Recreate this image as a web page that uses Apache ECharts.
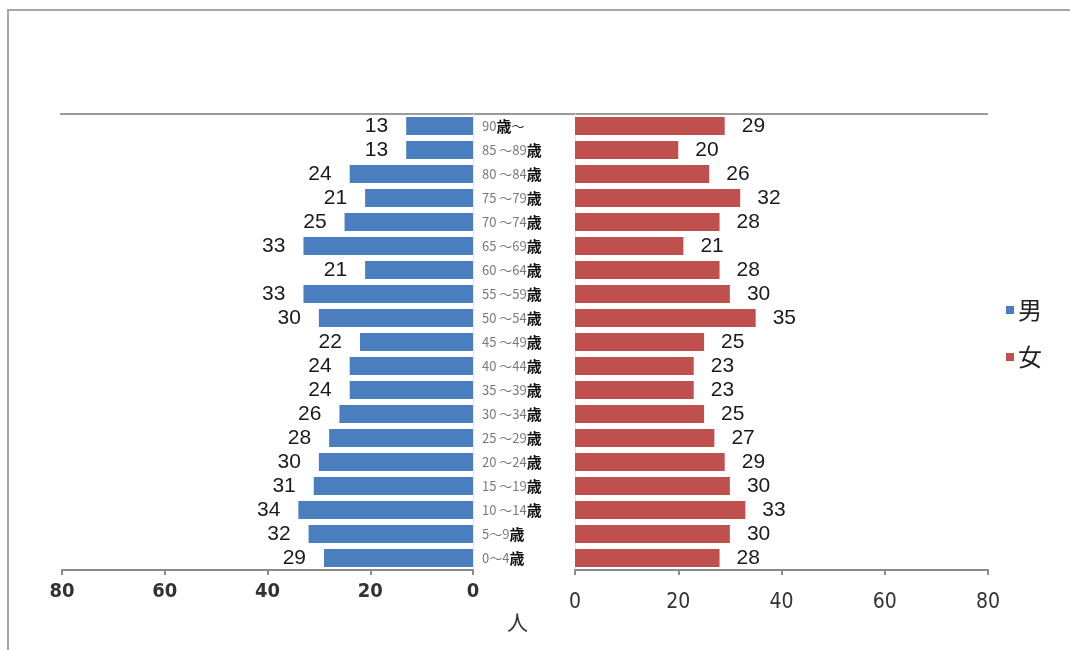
<!DOCTYPE html>
<html>
<head>
<meta charset="utf-8">
<script src="https://cdn.jsdelivr.net/npm/echarts@6/dist/echarts.min.js"></script>
<style>
  html, body { margin: 0; padding: 0; background: #fff; }
  #chart { width: 1070px; height: 650px; }
</style>
</head>
<body>
<div id="chart"></div>
<script>
// Age groups, top row first
const ageGroups = [
  '90歳～', '85～89歳', '80～84歳', '75～79歳', '70～74歳', '65～69歳',
  '60～64歳', '55～59歳', '50～54歳', '45～49歳', '40～44歳', '35～39歳',
  '30～34歳', '25～29歳', '20～24歳', '15～19歳', '10～14歳', '5～9歳', '0～4歳'
];
// Head counts per age group
const male   = [13, 13, 24, 21, 25, 33, 21, 33, 30, 22, 24, 24, 26, 28, 30, 31, 34, 32, 29];
const female = [29, 20, 26, 32, 28, 21, 28, 30, 35, 25, 23, 23, 25, 27, 29, 30, 33, 30, 28];
const axisTicks = { min: 0, max: 80, interval: 20 };

// Layout of the two half-plots
const W = 1070, H = 650;
const plotTop = 114, plotBottom = 570;
const leftL = 62, leftR = 473;
const rightL = 575, rightR = 988;

const chart = echarts.init(document.getElementById('chart'), null, { renderer: 'canvas' });

const axisGray = '#8c8c8c';
const numFont = '"DejaVu Sans Condensed", "Liberation Sans", Arial, sans-serif';
const cjkFont = '"Noto Sans CJK JP", "Noto Sans CJK SC", sans-serif';

// Digits in grey, the 歳 character in bold black; a space after two-digit starts
function ageLabel(v) {
  const parts = v.split('歳');
  const head = parts[0].replace(/(\d\d)～/, '$1 ～');
  return '{n|' + head + '}{k|歳}' + (parts[1] ? '{t|' + parts[1] + '}' : '');
}

chart.setOption({
  animation: false,
  backgroundColor: '#fff',
  legend: {
    orient: 'vertical',
    left: 1006,
    top: 298,
    padding: 0,
    icon: 'rect',
    itemWidth: 8,
    itemHeight: 8,
    itemGap: 23,
    data: ['男', '女'],
    textStyle: { fontSize: 24, color: '#222', fontFamily: cjkFont, padding: [0, 0, 0, -1] }
  },
  grid: [
    { left: leftL, right: W - leftR, top: plotTop, bottom: H - plotBottom },
    { left: rightL, right: W - rightR, top: plotTop, bottom: H - plotBottom }
  ],
  xAxis: [
    {
      gridIndex: 0, type: 'value', inverse: true,
      min: axisTicks.min, max: axisTicks.max, interval: axisTicks.interval,
      axisLine: { show: true, lineStyle: { color: axisGray, width: 2 } },
      axisTick: { show: true, length: 5, lineStyle: { color: axisGray, width: 2 } },
      splitLine: { show: false },
      axisLabel: { margin: 12, fontSize: 20, color: '#333', fontWeight: 'bold', fontFamily: numFont }
    },
    {
      gridIndex: 1, type: 'value',
      min: axisTicks.min, max: axisTicks.max, interval: axisTicks.interval,
      axisLine: { show: true, lineStyle: { color: axisGray, width: 2 } },
      axisTick: { show: true, length: 5, lineStyle: { color: axisGray, width: 2 } },
      splitLine: { show: false },
      axisLabel: { margin: 22, fontSize: 21, color: '#333', fontFamily: numFont }
    }
  ],
  yAxis: [
    {
      gridIndex: 0, type: 'category', inverse: true, position: 'right',
      data: ageGroups,
      axisLine: { show: true, lineStyle: { color: '#e4e4e4', width: 1 } },
      axisTick: { show: false },
      axisLabel: {
        margin: 9,
        formatter: ageLabel,
        rich: {
          n: { fontSize: 13, color: '#7a7a7a', fontFamily: cjkFont },
          t: { fontSize: 13, color: '#333', fontFamily: cjkFont },
          k: { fontSize: 15, color: '#111', fontWeight: 'bold', fontFamily: cjkFont }
        }
      }
    },
    {
      gridIndex: 1, type: 'category', inverse: true, position: 'left',
      data: ageGroups,
      axisLine: { show: true, lineStyle: { color: '#e4e4e4', width: 1 } },
      axisTick: { show: false },
      axisLabel: { show: false }
    }
  ],
  series: [
    {
      name: '男', type: 'bar', xAxisIndex: 0, yAxisIndex: 0,
      data: male, barWidth: 18,
      itemStyle: { color: '#4a7ebf' },
      label: {
        show: true, position: 'left', distance: 18,
        fontSize: 21, color: '#1a1a1a', fontFamily: '"Liberation Sans", Arial, sans-serif'
      }
    },
    {
      name: '女', type: 'bar', xAxisIndex: 1, yAxisIndex: 1,
      data: female, barWidth: 18,
      itemStyle: { color: '#c0504d' },
      label: {
        show: true, position: 'right', distance: 17,
        fontSize: 21, color: '#1a1a1a', fontFamily: '"Liberation Sans", Arial, sans-serif'
      }
    }
  ],
  graphic: [
    // outer frame
    {
      type: 'rect', silent: true,
      shape: { x: 8, y: 10, width: W + 20, height: H + 20 },
      style: { fill: 'none', stroke: '#a6a6a6', lineWidth: 2 }
    },
    // top border across both halves
    {
      type: 'line', silent: true,
      shape: { x1: leftL - 2, y1: plotTop, x2: rightR, y2: plotTop },
      style: { stroke: '#9a9a9a', lineWidth: 2 }
    },
    // unit label
    {
      type: 'text', silent: true,
      left: 507, top: 612,
      style: { text: '人', fontSize: 21, fill: '#333', fontFamily: cjkFont }
    }
  ]
});
</script>
</body>
</html>
